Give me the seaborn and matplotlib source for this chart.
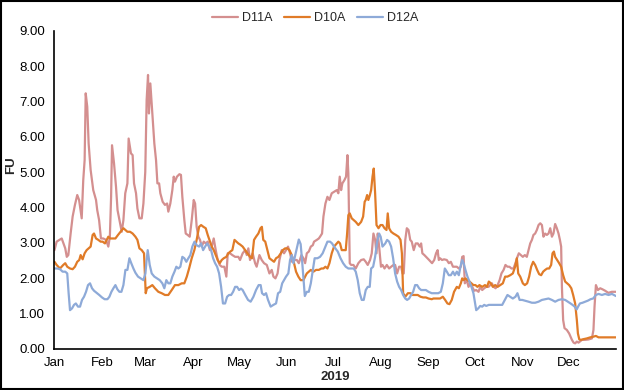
import pandas as pd
import matplotlib
matplotlib.use('Agg')
import matplotlib.pyplot as plt
import matplotlib.dates as mdates
from matplotlib.patches import Rectangle
import seaborn as sns

# Values (day of year 2019, FU)
d11a_days = [0, 1.4, 4.7, 7, 8, 9, 10.5, 11.8, 13.3, 14.8, 16, 17.7, 18.7, 19.6, 20.3, 21.3, 22.2, 23.5,
             25.2, 27, 27.8, 29, 30.2, 31.7, 33.5, 35, 36, 36.8, 37.4, 38.7, 40, 41, 42.6, 43.7, 44.8, 46,
             47.4, 48.2, 49.7, 50.8, 51.7, 53, 53.9, 55.2, 56.7, 57.8, 59, 59.9, 60.8, 61.4, 62.3, 63.6,
             64.9, 66, 66.9, 68, 68.8, 70.3, 71.8, 73.2, 74, 75.3, 76.6, 77.5, 78.3, 79.6, 81.2, 82.2, 83.1,
             84.4, 85.3, 86.6, 87.9, 89.2, 90.5, 91.4, 92.4, 93.5, 94.6, 95.7, 97, 98.3, 99.6, 101, 102.2,
             103.5, 104.8, 106.1, 107.4, 108.7, 110.4, 111.7, 112.6, 114.1, 115.6, 117.4, 119.5, 120.6,
             122.3, 123.9, 125, 126, 127.1, 128.8, 130.4, 131.4, 133.2, 134.7, 136.2, 138, 139.7, 141.2,
             142.3, 143.6, 145, 146.2, 147.7, 149.2, 150.5, 151.8, 153.1, 154.4, 155.7, 157.5, 158.8, 160.5,
             161.8, 162.9, 164, 165.3, 166.6, 167.9, 168.7, 170.5, 171.8, 172.6, 173.9, 174.8, 176.1, 177.4,
             178.7, 180.2, 181.7, 183.5, 184.5, 185.4, 186.3, 187.1, 188.4, 189.5, 190.4, 191, 191.9, 192.8,
             194.3, 195.8, 197.5, 199.3, 201, 202.3, 203.6, 205.1, 206.2, 207.3, 208.4, 209.3, 210.1, 211,
             212.2, 213.2, 214.5, 216, 217.5, 218.8, 220.3, 221.4, 222.7, 224, 225.3, 226.2, 227, 228, 229,
             230.1, 231.2, 232.2, 233.5, 234.8, 236.1, 237.4, 238.3, 239.1, 240.4, 242, 243.5, 245.4, 246.8,
             248, 249, 249.8, 250.6, 251.9, 253.2, 255, 256.3, 257.6, 259, 260.2, 261.5, 262.8, 264.1, 265,
             265.9, 266.7, 268, 269.1, 270.1, 271.5, 272.8, 274.1, 275.6, 276.7, 278, 279.3, 280.6, 282.1,
             283.2, 284.3, 285.4, 286.7, 288, 289.3, 290.5, 291.9, 293.1, 294.4, 295.7, 297, 298.3, 299.6,
             300.9, 301.8, 303.1, 304.4, 305.7, 307, 308.1, 309.2, 310.3, 311.3, 312.4, 313.5, 314.6, 315.7,
             316.8, 317.8, 318.9, 320, 321.1, 322.2, 323.3, 324.3, 325.4, 326.5, 327.6, 328.5, 329.3, 329.8,
             330.6, 331.5, 333, 334.5, 335.4, 336.3, 337.4, 338.4, 339.5, 340.6, 342.8, 344.9, 347, 349.3,
             350.3, 351, 351.9, 353.2, 354.7, 356.2, 357.9, 360, 362.2, 364.9]
d11a_vals = [2.79, 3.03, 3.12, 2.84, 2.60, 2.65, 3.26, 3.74, 4.07, 4.35, 4.21, 3.69, 4.77, 5.34, 7.23, 6.85,
             5.81, 5.06, 4.49, 4.21, 3.92, 3.64, 3.12, 3.12, 3.08, 2.89, 3.17, 4.30, 5.76, 5.25, 4.58, 3.92,
             3.55, 3.31, 3.64, 4.40, 4.68, 5.95, 5.53, 5.48, 4.68, 4.40, 3.97, 3.69, 3.69, 4.11, 5.00, 7.04,
             7.75, 6.66, 7.51, 6.66, 5.81, 5.34, 4.68, 4.68, 4.40, 4.16, 4.07, 4.11, 3.88, 4.11, 4.49, 4.87,
             4.73, 4.87, 4.94, 4.92, 4.30, 3.64, 3.26, 3.22, 3.17, 3.64, 4.21, 4.11, 3.45, 3.17, 3.08, 2.89,
             3.03, 2.98, 3.03, 2.79, 2.89, 3.12, 2.79, 2.51, 2.37, 2.32, 2.32, 2.04, 2.70, 2.70, 2.65, 2.60,
             2.60, 2.51, 2.70, 2.79, 2.65, 2.84, 2.51, 2.70, 2.42, 2.32, 2.65, 2.51, 2.42, 2.37, 2.13, 2.23,
             2.04, 1.99, 2.13, 2.51, 2.79, 2.70, 2.79, 2.89, 2.70, 2.46, 2.51, 2.51, 2.42, 2.65, 2.56, 2.42,
             2.70, 2.75, 2.89, 2.93, 3.03, 3.08, 3.12, 3.17, 3.26, 3.74, 4.11, 4.30, 4.21, 4.40, 4.44, 4.49,
             4.40, 4.87, 4.49, 4.68, 4.77, 4.87, 5.48, 4.96, 2.42, 2.37, 2.37, 2.27, 2.42, 2.51, 2.53, 2.46,
             2.37, 2.51, 2.70, 3.26, 3.08, 2.70, 3.26, 2.89, 2.32, 2.37, 2.27, 2.37, 2.27, 2.32, 2.37, 2.37,
             2.13, 2.32, 2.32, 2.13, 2.13, 3.08, 3.41, 3.36, 3.08, 3.03, 2.79, 2.98, 2.98, 2.89, 2.98, 2.70,
             2.65, 2.58, 2.51, 2.42, 2.51, 2.70, 2.79, 2.51, 2.56, 2.51, 2.53, 2.51, 2.42, 2.46, 2.32, 2.32,
             2.32, 2.27, 2.32, 2.60, 2.62, 1.85, 1.94, 1.75, 1.85, 1.75, 1.64, 1.66, 1.61, 1.75, 1.66, 1.71,
             1.75, 1.75, 1.80, 1.85, 1.75, 1.71, 1.80, 1.94, 2.13, 2.23, 2.37, 2.32, 2.32, 2.27, 2.27, 2.42,
             2.60, 2.70, 2.65, 2.60, 2.65, 2.60, 2.79, 2.98, 3.08, 3.22, 3.26, 3.36, 3.50, 3.55, 3.50, 3.17,
             3.26, 3.22, 3.26, 3.41, 3.17, 3.26, 3.53, 3.41, 3.26, 3.08, 2.89, 1.75, 0.81, 0.58, 0.53, 0.43,
             0.34, 0.25, 0.17, 0.15, 0.20, 0.17, 0.25, 0.25, 0.26, 0.29, 0.53, 1.19, 1.80, 1.66, 1.71, 1.68,
             1.64, 1.58, 1.61, 1.61]

d10a_days = [0, 1.4, 3.6, 5.7, 7, 8.3, 10.1, 11.8, 13.3, 14.8, 16.1, 17, 18.3, 19.6, 20.9, 22.2, 23.5, 24.8,
             25.7, 27, 28.5, 30, 31.3, 32.8, 34, 35, 36.1, 37.8, 39.6, 41.3, 43, 44.8, 46.1, 47.4, 49.1, 50.8,
             52.6, 53.9, 55.2, 56.7, 58.2, 59.3, 60.1, 61.9, 63.6, 65.3, 67.5, 69.7, 71.8, 74, 76.2, 78.3,
             80.5, 82.7, 84.4, 86, 87.5, 89.2, 90.9, 92.4, 94, 95.3, 96.8, 98.3, 99.6, 101.1, 102.2, 103.5,
             104.8, 106.1, 107.4, 108.7, 110, 111.7, 113, 114.3, 115.6, 117, 118.3, 119.5, 120.6, 122.3,
             123.9, 125.4, 127.1, 128.4, 129.7, 131, 132.5, 133.9, 134.8, 135.7, 137, 138.4, 139.7, 141.2,
             142.7, 144, 145.5, 147.1, 148.4, 149.9, 151.4, 152.7, 154.2, 155.7, 157, 158.5, 160, 161.8,
             162.9, 164, 165.3, 166.6, 168.3, 170, 171.8, 173.5, 174.8, 176.1, 177.4, 178.7, 180.2, 181.7,
             183.5, 184.5, 185.6, 186.7, 187.9, 189.3, 190.2, 191, 191.9, 193.2, 194.5, 195.8, 197.5, 199.3,
             200.6, 201.6, 202.3, 203.2, 204, 205, 205.8, 206.7, 207.5, 208.4, 209.3, 210.6, 211.9, 213.2,
             214.5, 215.8, 216.6, 217.5, 218.8, 220.3, 221.9, 223.6, 224.9, 225.8, 226.6, 228, 229.7, 231.4,
             232.7, 234.4, 236.1, 237.9, 239.6, 241.4, 243.1, 245.2, 246.3, 248.5, 250.6, 252.4, 253.9, 255.4,
             256.7, 258.2, 259.7, 261.5, 262.8, 264.1, 265, 265.9, 267.1, 268.4, 269.7, 271, 272.3, 273.6,
             274.9, 276.2, 278, 279.8, 281.1, 282.3, 283.6, 284.9, 286.4, 288, 289.7, 291.4, 292.9, 294.4,
             296.2, 297.9, 299.4, 300.5, 301.4, 302.7, 304.4, 305.7, 307.2, 308.5, 309.8, 311.1, 312.4, 313.7,
             315, 316.3, 317.6, 318.9, 320.2, 321.5, 322.8, 323.7, 324.6, 325.4, 326.7, 328, 329.3, 330.6,
             331.9, 333.2, 334.5, 335.9, 337.1, 338.4, 339.5, 340.2, 341.1, 342.3, 343.9, 346, 348.2, 350.3,
             351.9, 353.6, 356.9, 360.1, 364.9]
d10a_vals = [2.46, 2.37, 2.27, 2.37, 2.42, 2.32, 2.27, 2.25, 2.32, 2.46, 2.51, 2.65, 2.53, 2.70, 2.79, 2.84,
             2.89, 3.22, 3.26, 3.12, 3.08, 3.03, 3.03, 2.98, 3.08, 3.17, 3.12, 3.12, 3.12, 3.22, 3.31, 3.41,
             3.36, 3.31, 3.31, 3.26, 3.17, 3.08, 2.84, 2.79, 2.70, 1.57, 1.71, 1.75, 1.80, 1.71, 1.61, 1.57,
             1.52, 1.52, 1.66, 1.80, 1.80, 1.85, 1.85, 2.04, 2.27, 2.56, 2.79, 3.08, 3.45, 3.50, 3.45, 3.41,
             3.22, 3.03, 2.89, 2.79, 2.65, 2.51, 2.42, 2.51, 2.56, 2.60, 2.70, 2.75, 2.79, 3.08, 3.03, 2.98,
             2.95, 2.89, 2.79, 2.70, 2.60, 2.56, 3.08, 3.17, 3.26, 3.41, 3.45, 3.08, 3.03, 2.79, 2.56, 2.51,
             2.46, 2.56, 2.60, 2.70, 2.79, 2.84, 2.84, 2.79, 2.65, 2.42, 2.18, 2.04, 1.94, 1.94, 2.04, 2.13,
             2.18, 2.23, 2.18, 2.23, 2.23, 2.27, 2.27, 2.32, 2.27, 2.42, 2.70, 2.89, 2.98, 3.03, 2.98, 2.79,
             2.79, 2.79, 3.26, 3.78, 3.83, 3.69, 3.64, 3.59, 3.50, 3.59, 3.74, 4.16, 4.21, 4.35, 4.21, 4.35,
             4.49, 4.87, 5.10, 4.40, 3.50, 3.41, 3.50, 3.50, 3.41, 3.36, 3.83, 3.41, 3.31, 3.26, 3.22, 3.17,
             3.08, 2.70, 1.57, 1.47, 1.57, 1.57, 1.52, 1.52, 1.52, 1.47, 1.45, 1.45, 1.42, 1.40, 1.42, 1.42,
             1.42, 1.47, 1.38, 1.28, 1.26, 1.38, 1.61, 1.75, 1.71, 1.85, 1.99, 1.94, 1.99, 1.94, 1.90, 1.85,
             1.80, 1.80, 1.75, 1.80, 1.75, 1.80, 1.75, 1.90, 1.85, 1.75, 1.80, 1.75, 1.80, 1.85, 2.04, 2.04,
             2.08, 2.13, 2.32, 2.56, 2.13, 2.04, 1.85, 1.80, 1.85, 2.04, 2.32, 2.46, 2.37, 2.23, 2.11, 2.08,
             2.18, 2.23, 2.27, 2.27, 2.37, 2.70, 2.75, 2.60, 2.51, 2.42, 2.32, 2.08, 1.90, 1.85, 1.80, 1.71,
             1.52, 1.28, 0.81, 0.43, 0.26, 0.25, 0.27, 0.29, 0.32, 0.34, 0.36, 0.32, 0.32, 0.32, 0.32]

d12a_days = [0, 1.8, 3.6, 5.3, 7, 8.3, 9.2, 10.1, 11.4, 12.7, 13.9, 15.3, 16.6, 17.9, 19.2, 20.5, 21.8, 23.1,
             24.4, 25.7, 27.4, 29.1, 30.9, 32.6, 34.4, 35.7, 37, 38.3, 39.6, 40.9, 42.2, 43.5, 44.8, 46.1,
             47.4, 48.7, 49.9, 51.3, 52.6, 54.3, 56, 57.8, 59.1, 59.9, 60.6, 61.9, 63.2, 64.9, 66.6, 68.4,
             70.1, 71.4, 72.7, 74, 75.3, 76.6, 78, 79.2, 80.5, 81.8, 83.1, 84.4, 85.7, 87, 88.3, 89.6, 91,
             92.4, 94, 95.3, 96.6, 97.9, 99.2, 100.5, 101.8, 103.1, 104.4, 105.7, 107, 108.3, 109.5, 110.9,
             112.2, 113.5, 114.8, 116.1, 117.4, 118.7, 120, 121.2, 122.3, 124, 125.8, 127.5, 129.3, 131,
             132.7, 134, 134.9, 136.2, 137.5, 138.8, 140.5, 142.3, 144, 145.3, 146.7, 148, 149.2, 150.5, 152,
             153.1, 154.2, 155.3, 157, 158.8, 160, 160.9, 161.8, 162.7, 164, 165.3, 166.6, 167.9, 169.1,
             170.9, 172.6, 174.3, 176.1, 177.4, 179.1, 180.4, 181.7, 183.4, 184.1, 185.9, 187.6, 189.3, 191,
             192.8, 194.5, 195.8, 197.1, 198.4, 199.7, 201, 202.3, 203.6, 204.9, 205.8, 207.1, 208.4, 209.7,
             211, 212, 213.2, 215, 216.2, 217.5, 218.8, 220.1, 221.4, 222.7, 224, 225.3, 226.6, 228, 229.2,
             230.5, 231.8, 233.1, 234.4, 235.7, 237, 238.3, 239.6, 241.4, 243.1, 245.2, 247.6, 249.4, 251.1,
             252.4, 253.7, 255, 256.3, 257.6, 259, 260.2, 261.5, 262.8, 264.1, 265, 265.9, 267.1, 268.4,
             269.7, 271, 272.3, 273.2, 274.1, 275.4, 276.7, 278, 279.3, 280.6, 282.3, 284.1, 285.8, 287.5,
             289.3, 291, 292.7, 294.4, 296.2, 297.9, 299.6, 300.9, 302.3, 304, 305.7, 308.1, 310.3, 312.4,
             314.6, 316.8, 319, 321.1, 323.3, 325.4, 327.6, 329.8, 331.9, 333.7, 335.4, 336.7, 338.1, 339.4,
             340.3, 341.5, 343.2, 345, 346.7, 348.4, 350.1, 351.9, 353.6, 355.8, 357.9, 360.1, 362.3, 364.9]
d12a_vals = [2.27, 2.27, 2.25, 2.18, 2.18, 2.13, 1.57, 1.09, 1.14, 1.24, 1.28, 1.19, 1.19, 1.38, 1.47, 1.61,
             1.80, 1.85, 1.71, 1.64, 1.58, 1.52, 1.45, 1.40, 1.40, 1.47, 1.61, 1.71, 1.80, 1.68, 1.61, 1.61,
             1.80, 2.23, 2.23, 2.56, 2.42, 2.27, 2.15, 2.04, 1.99, 1.94, 2.13, 2.51, 2.79, 2.37, 2.13, 2.04,
             1.99, 1.94, 1.85, 1.71, 1.94, 1.85, 1.85, 2.04, 2.18, 2.32, 2.27, 2.32, 2.60, 2.56, 2.46, 2.56,
             2.65, 2.89, 3.03, 2.93, 2.89, 2.98, 2.79, 2.89, 2.98, 2.89, 2.79, 2.56, 2.42, 2.32, 2.13, 1.75,
             1.28, 1.28, 1.47, 1.52, 1.52, 1.61, 1.75, 1.75, 1.66, 1.70, 1.66, 1.52, 1.38, 1.33, 1.47, 1.66,
             1.80, 1.80, 1.57, 1.52, 1.57, 1.38, 1.19, 1.24, 1.28, 1.57, 1.61, 1.85, 1.94, 2.04, 2.13, 2.51,
             2.65, 2.42, 2.75, 3.09, 2.96, 2.51, 1.99, 1.49, 1.61, 1.61, 1.85, 2.23, 2.56, 2.56, 2.60, 2.70,
             2.89, 3.03, 3.03, 2.98, 2.89, 2.79, 2.75, 2.56, 2.42, 2.32, 2.27, 2.27, 2.27, 2.18, 1.94, 1.57,
             1.38, 1.38, 1.66, 1.75, 1.75, 2.27, 2.32, 2.60, 3.03, 3.26, 3.17, 2.89, 2.98, 3.08, 3.03, 2.89,
             2.56, 2.13, 1.90, 1.75, 1.66, 1.52, 1.42, 1.38, 1.42, 1.52, 1.61, 1.80, 1.80, 1.71, 1.66, 1.66,
             1.66, 1.61, 1.57, 1.57, 1.57, 1.61, 1.85, 2.27, 2.18, 2.08, 2.08, 2.18, 2.08, 2.18, 2.08, 2.37,
             2.51, 2.42, 2.23, 2.04, 1.90, 1.75, 1.57, 1.33, 1.09, 1.14, 1.21, 1.19, 1.24, 1.21, 1.24, 1.24,
             1.24, 1.24, 1.24, 1.24, 1.38, 1.52, 1.47, 1.42, 1.47, 1.57, 1.38, 1.38, 1.36, 1.33, 1.30, 1.30,
             1.33, 1.38, 1.40, 1.42, 1.38, 1.33, 1.38, 1.40, 1.38, 1.33, 1.28, 1.24, 1.19, 1.11, 1.19, 1.28,
             1.30, 1.33, 1.36, 1.40, 1.42, 1.52, 1.55, 1.52, 1.55, 1.52, 1.55, 1.49]

series_names = ['D11A', 'D10A', 'D12A']
series_colors = ['#d48f8f', '#e07b28', '#8eaad8']
month_labels = ['Jan', 'Feb', 'Mar', 'Apr', 'May', 'Jun', 'Jul', 'Aug', 'Sep', 'Oct', 'Nov', 'Dec', '']

start = pd.Timestamp('2019-01-01')
frames = []
for name, days, vals in [('D11A', d11a_days, d11a_vals),
                         ('D10A', d10a_days, d10a_vals),
                         ('D12A', d12a_days, d12a_vals)]:
    frames.append(pd.DataFrame({
        'date': start + pd.to_timedelta(days, unit='D'),
        'FU': vals,
        'series': name,
    }))
data = pd.concat(frames, ignore_index=True)

sns.set_style('white')
plt.rcParams['font.family'] = ['Liberation Sans', 'DejaVu Sans']

fig = plt.figure(figsize=(6.24, 3.9), dpi=100)
ax = fig.add_axes([0.0873, 0.106, 0.900, 0.815])

sns.lineplot(data=data, x='date', y='FU', hue='series', hue_order=series_names,
             palette=dict(zip(series_names, series_colors)), estimator=None,
             linewidth=1.6, ax=ax)

# month ticks, plus the closing tick at 1 Jan 2020
month_starts = pd.date_range('2019-01-01', '2020-01-01', freq='MS')
ax.set_xlim(month_starts[0], month_starts[-1])
ax.set_xticks(mdates.date2num(month_starts))
ax.set_xticklabels(month_labels)
ax.set_ylim(0, 9)
ax.set_yticks(range(0, 10))
ax.yaxis.set_major_formatter(matplotlib.ticker.FormatStrFormatter('%.2f'))

for s in ['top', 'right']:
    ax.spines[s].set_visible(False)
for s in ['left', 'bottom']:
    ax.spines[s].set_color('black')
    ax.spines[s].set_linewidth(1.2)
ax.tick_params(axis='both', direction='inout', length=5.5, width=1.1, color='black',
               labelsize=9.5, labelcolor='black')
ax.tick_params(axis='y', pad=4)
ax.tick_params(axis='x', pad=3)
ax.grid(False)

ax.set_xlabel('2019', fontsize=9.5, fontweight='bold', labelpad=2)
ax.set_ylabel('FU', fontsize=9.5, fontweight='bold')
ax.yaxis.set_label_coords(-0.066, 0.578)

handles, lbls = ax.get_legend_handles_labels()
ax.get_legend().remove()
fig.legend(handles, lbls, loc='center', bbox_to_anchor=(0.505, 1 - 18 / 390), ncol=3,
           frameon=False, fontsize=9, handlelength=2.1, handletextpad=0.3, columnspacing=0.9)

fig.patches.append(Rectangle((0.001, 0.002), 0.997, 0.996, transform=fig.transFigure,
                             fill=False, edgecolor='black', linewidth=1.5))

fig.savefig('out.png', dpi=100)
